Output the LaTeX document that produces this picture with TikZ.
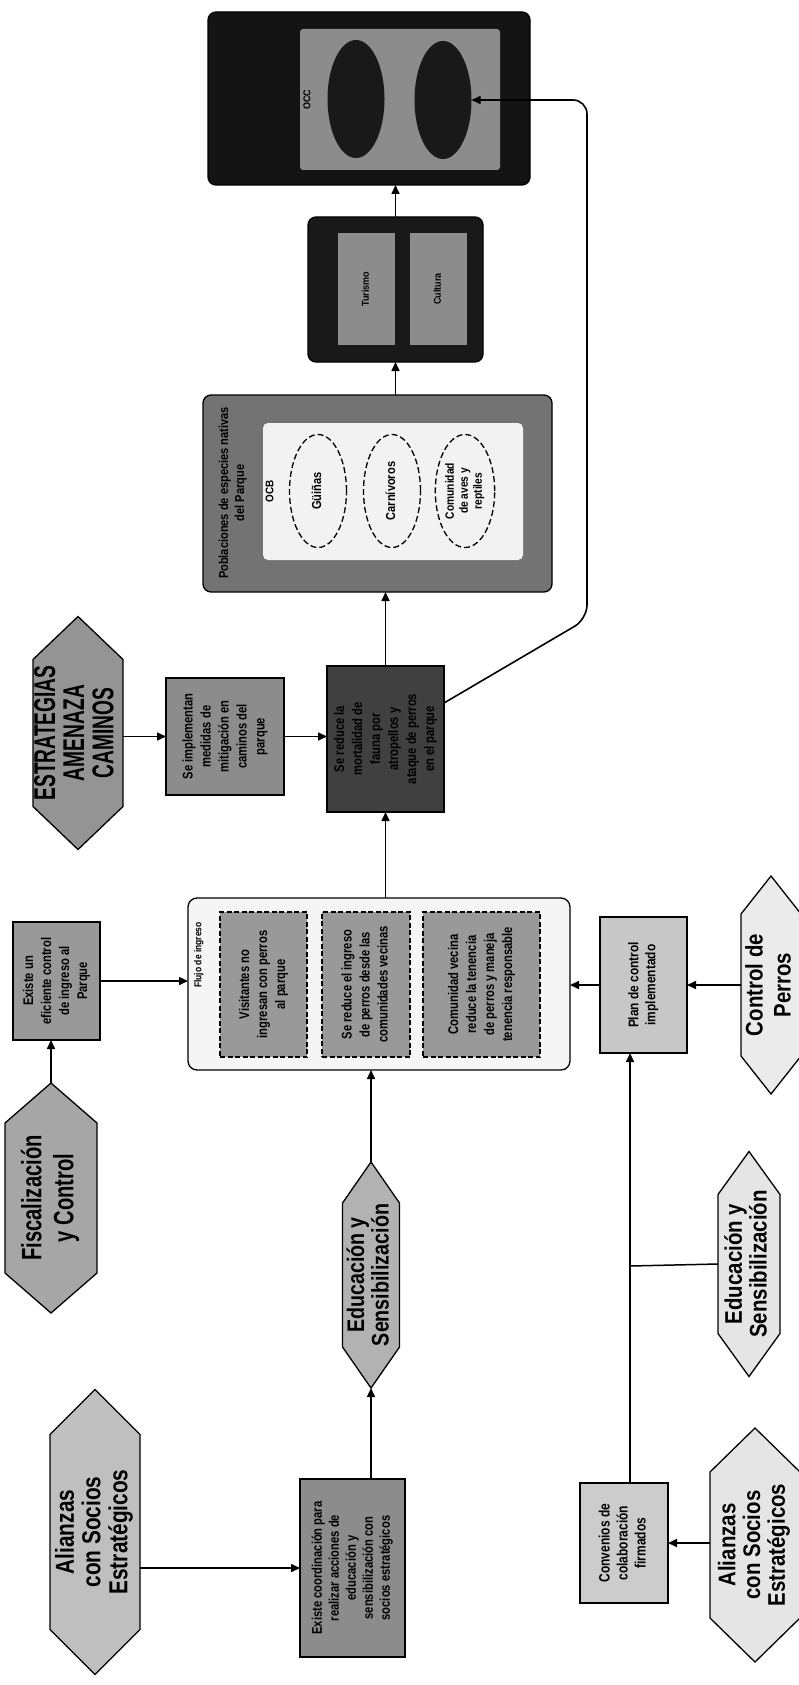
\documentclass[tikz,border=0pt]{standalone}
\usepackage{fontspec}
\setmainfont{Liberation Sans}
\usepackage{graphicx}
\usetikzlibrary{arrows.meta,calc,shapes.geometric}

\newcommand\rt[4]{\rotatebox{90}{\scalebox{#3}[1]{\fontsize{#1}{#2}\selectfont\begin{tabular}{@{}c@{}}#4\end{tabular}}}}

\newcommand\hexnode[8]{%
 \pgfmathsetmacro\hxl{#2-#4/2}%
 \pgfmathsetmacro\hxr{#2+#4/2}%
 \pgfmathsetmacro\hyt{#3-#5/2}%
 \pgfmathsetmacro\hyb{#3+#5/2}%
 \pgfmathsetmacro\hytd{#3-#5/2+#6}%
 \pgfmathsetmacro\hybd{#3+#5/2-#6}%
 \draw[hexshape, fill=#7] (#2,\hyt) -- (\hxr,\hytd) -- (\hxr,\hybd) -- (#2,\hyb) -- (\hxl,\hybd) -- (\hxl,\hytd) -- cycle;
 \node[minimum width=#4pt, minimum height=#5pt] (#1) at (#2,#3) {#8};
}

\begin{document}
\begin{tikzpicture}[x=1pt,y=-1pt,
  every node/.style={font=\bfseries, inner sep=0pt, outer sep=0pt},
  bx/.style={draw=black, line width=1.3pt},
  dbx/.style={draw=black, line width=1.2pt, dash pattern=on 5pt off 2.5pt},
  arr/.style={line width=1.6pt, -{Triangle[length=9pt,width=8pt]}},
  ln/.style={line width=1.5pt},
  hexshape/.style={draw=black, line width=1.3pt},
  dell/.style={ellipse, draw=black, line width=1.3pt, dash pattern=on 6pt off 3pt}]

\fill[white] (0,0) rectangle (799,1685);
\useasboundingbox (0,0) rectangle (799,1685);

% ---------- top: box 1 ----------
\node[bx, rounded corners=8pt, fill=black!92, minimum width=322pt, minimum height=173pt] (box1) at (369,98.5) {};
\node[fill=black!45, rounded corners=3pt, minimum width=200pt, minimum height=141pt] (box1in) at (400,99.5) {};
\node[ellipse, fill=black!90, minimum width=57pt, minimum height=118pt] (e1) at (356,99) {};
\node[ellipse, fill=black!90, minimum width=57pt, minimum height=118pt] (e2) at (443,100) {};
\node (lab1) at (308,100) {\rt{10}{12}{0.9}{OCC}};

% ---------- box 2 ----------
\node[bx, rounded corners=8pt, fill=black!90, minimum width=175pt, minimum height=145pt] (box2) at (395.5,289.5) {};
\node[fill=black!45, minimum width=57pt, minimum height=112pt] (p1) at (366.5,289) {\rt{10}{12}{0.9}{Turismo}};
\node[fill=black!45, minimum width=57pt, minimum height=112pt] (p2) at (438.5,289) {\rt{10}{12}{0.9}{Cultura}};

% ---------- box 3 ----------
\node[bx, rounded corners=8pt, fill=black!55, minimum width=349pt, minimum height=197pt] (box3) at (377.5,493.5) {};
\node[fill=black!5, rounded corners=5pt, minimum width=260pt, minimum height=137pt] (box3in) at (393,491.5) {};
\node (tit3) at (233,493) {\rt{13}{16}{0.85}{Poblaciones de especies nativas\\del Parque}};
\node (ocb) at (271,491) {\rt{11}{12}{0.9}{OCB}};
\node[dell, minimum width=57pt, minimum height=113pt] (d1) at (318,491) {\rt{13}{15}{0.85}{Güiñas}};
\node[dell, minimum width=57pt, minimum height=113pt] (d2) at (392,491) {\rt{13}{15}{0.85}{Carnívoros}};
\node[dell, minimum width=57pt, minimum height=113pt] (d3) at (465,491) {\rt{12}{14}{0.85}{Comunidad\\de aves y\\reptiles}};

% ---------- box 4 and 5 ----------
\node[bx, fill=black!75, minimum width=117pt, minimum height=146pt] (box4) at (385.5,739) {\rt{14}{18}{0.8}{Se reduce la\\mortalidad de\\fauna por\\atropellos y\\ataque de perros\\en el parque}};
\node[bx, fill=black!45, minimum width=118pt, minimum height=117pt] (box5) at (225,736.5) {\rt{14}{18}{0.8}{Se implementan\\medidas de\\mitigación en\\caminos del\\parque}};

\hexnode{hexEst}{78}{733}{90}{233}{43}{black!42}{\rt{30}{28}{0.64}{ESTRATEGIAS\\AMENAZA\\CAMINOS}}

% ---------- middle ----------
\node[bx, fill=black!40, minimum width=87pt, minimum height=118pt] (boxEx) at (56.5,981) {\rt{14}{18}{0.8}{Existe un\\eficiente control\\de ingreso al\\Parque}};
\hexnode{hexFis}{51}{1198}{92}{230}{40}{black!35}{\rt{28}{32}{0.72}{Fiscalización\\y Control}}

\node[bx, rounded corners=9pt, fill=black!4, minimum width=382pt, minimum height=172pt] (cont) at (379,984) {};
\node (contlab) at (199,955) {\rt{10}{12}{0.85}{Flujo de ingreso}};
\node[dbx, fill=black!40, minimum width=87pt, minimum height=145pt] (b1) at (263.5,984.5) {\rt{14}{18}{0.8}{Visitantes no\\ingresan con perros\\al parque}};
\node[dbx, fill=black!40, minimum width=88pt, minimum height=145pt] (b2) at (366,984.5) {\rt{14}{18}{0.8}{Se reduce el ingreso\\de perros desde las\\comunidades vecinas}};
\node[dbx, fill=black!40, minimum width=117pt, minimum height=145pt] (b3) at (481.5,984.5) {\rt{14}{18}{0.8}{Comunidad vecina\\reduce la tenencia\\de perros y maneja\\tenencia responsable}};

\node[bx, fill=black!22, minimum width=87pt, minimum height=136pt] (box10) at (643.5,985) {\rt{14}{17}{0.85}{Plan de control\\implementado}};
\hexnode{hexCtrl}{771}{985}{60}{218}{38}{black!8}{\rt{24}{28}{0.85}{Control de\\Perros}}

% ---------- bottom ----------
\hexnode{hexEduM}{371}{1275}{57}{226}{41}{black!30}{\rt{24}{23}{0.82}{Educación y\\Sensibilización}}
\hexnode{hexEduR}{749}{1264}{62}{225}{43}{black!10}{\rt{24}{24}{0.85}{Educación y\\Sensibilización}}
\node[bx, fill=black!45, minimum width=105pt, minimum height=178pt] (boxCoord) at (352.5,1568) {\rt{14}{17}{0.8}{Existe coordinación para\\realizar acciones de\\educación y\\sensibilización con\\socios estratégicos}};
\hexnode{hexAliBL}{95}{1532}{90}{285}{45}{black!25}{\rt{26}{26}{0.8}{Alianzas\\con Socios\\Estratégicos}}
\node[bx, fill=black!20, minimum width=88pt, minimum height=120pt] (conv) at (624,1543) {\rt{15}{18}{0.8}{Convenios de\\colaboración\\firmados}};
\hexnode{hexAliBR}{755}{1545}{90}{234}{44}{black!10}{\rt{24}{24}{0.85}{Alianzas\\con Socios\\Estratégicos}}

% ---------- connectors ----------
\coordinate (k1) at (587,619);
\coordinate (k2) at (587,100);
\coordinate (j) at (630,1266);

\draw[arr] (box2.north) -- (box2.north |- box1.south);
\draw[arr] (box3.north -| box2.south) -- (box2.south);
\draw[arr] (box4.north) -- (box4.north |- box3.south);
\draw[arr, rounded corners=14pt] ($(box4.north east)+(0,37)$) -- (k1) -- (k2) -- (e2.east);
\draw[arr] (box5.east) -- (box5.east -| box4.west);
\draw[arr] (hexEst.east |- box5.west) -- (box5.west);
\draw[arr] (cont.north -| box4.south) -- (box4.south);
\draw[arr] (boxEx.east) -- (boxEx.east -| cont.west);
\draw[arr] (hexFis.north) -- (hexFis.north |- boxEx.south);
\draw[arr] (hexEduM.north) -- (hexEduM.north |- cont.south);
\draw[arr] (boxCoord.north -| hexEduM.south) -- (hexEduM.south);
\draw[arr] (hexAliBL.east |- boxCoord.west) -- (boxCoord.west);
\draw[arr] (box10.west) -- (box10.west -| cont.east);
\draw[arr] (hexCtrl.west) -- (hexCtrl.west -| box10.east);
\draw[arr] (conv.north -| j) -- (box10.south -| j);
\draw[ln] (hexEduR.west) -- (j);
\draw[arr] (hexAliBR.west |- conv.east) -- (conv.east);

\end{tikzpicture}
\end{document}
